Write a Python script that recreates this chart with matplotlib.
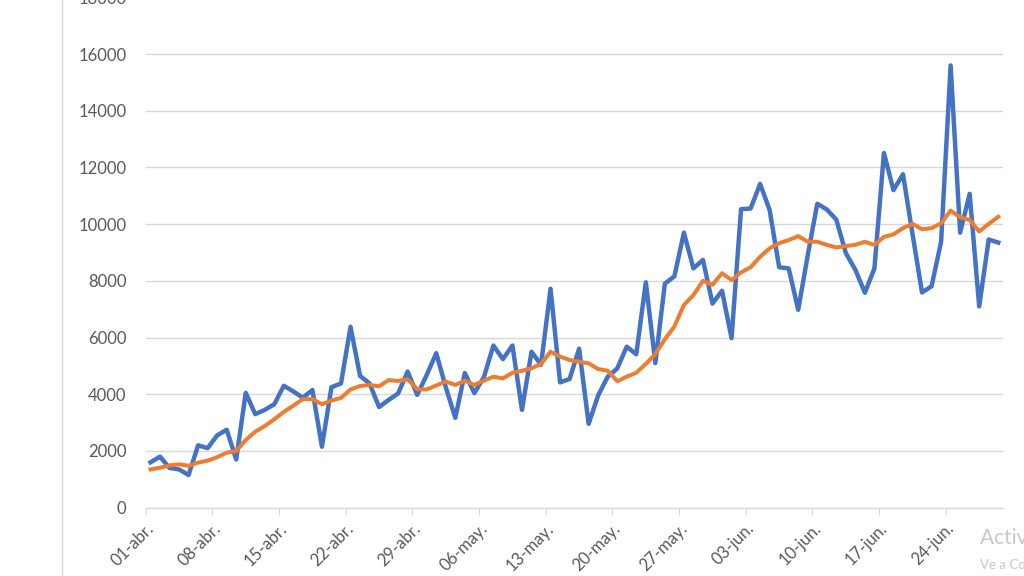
import numpy as np
import matplotlib.pyplot as plt
from matplotlib.lines import Line2D

# -----------------------------
# Data (daily values, 01-abr .. 29-jun)
# -----------------------------
daily = [
    1600, 1800, 1400, 1350, 1150, 2200, 2100, 2550, 2750, 1700,
    4050, 3300, 3450, 3650, 4300, 4100, 3880, 4150, 2150, 4250,
    4380, 6380, 4650, 4380, 3550, 3800, 4030, 4800, 3980, 4680,
    5450, 4250, 3170, 4750, 4040, 4600, 5720, 5240, 5720, 3450,
    5500, 5040, 7720, 4420, 4540, 5610, 2960, 3960, 4620, 4910,
    5680, 5410, 7950, 5100, 7900, 8160, 9700, 8440, 8740, 7200,
    7650, 5980, 10530, 10550, 11420, 10500, 8480, 8440, 6980, 8900,
    10720, 10520, 10160, 8980, 8390, 7580, 8440, 12510, 11200, 11760,
    9650, 7590, 7810, 9380, 15600, 9700, 11070, 7100, 9460, 9350,
]

moving_avg = [
    1350, 1410, 1490, 1530, 1480, 1590, 1660, 1780, 1940, 2000,
    2390, 2680, 2880, 3120, 3380, 3600, 3830, 3830, 3650, 3780,
    3870, 4170, 4290, 4330, 4280, 4500, 4470, 4530, 4180, 4170,
    4310, 4450, 4330, 4480, 4330, 4480, 4620, 4560, 4760, 4830,
    4920, 5070, 5500, 5330, 5210, 5150, 5090, 4890, 4830, 4460,
    4620, 4760, 5070, 5420, 5940, 6390, 7150, 7500, 8000, 7860,
    8270, 8030, 8300, 8480, 8850, 9150, 9330, 9440, 9580, 9380,
    9380, 9270, 9180, 9230, 9270, 9380, 9270, 9550, 9640, 9860,
    10010, 9820, 9860, 10030, 10480, 10240, 10150, 9740, 10010, 10260,
]

tick_labels = [
    "01-abr.", "08-abr.", "15-abr.", "22-abr.", "29-abr.", "06-may.",
    "13-may.", "20-may.", "27-may.", "03-jun.", "10-jun.", "17-jun.", "24-jun.",
]

BLUE = "#4472C4"
ORANGE = "#ED7D31"
GRID = "#D9D9D9"
TEXT = "#595959"

plt.rcParams["font.family"] = ["Lato", "DejaVu Sans"]

# -----------------------------
# Plot
# -----------------------------
fig = plt.figure(figsize=(10.24, 5.76), dpi=100)
ax = fig.add_axes([0.1423, 0.1186, 0.8372, 0.886])

n = len(daily)
x = np.arange(n) + 0.5  # points sit between the date tick marks
ax.plot(x, daily, color=BLUE, lw=3.2, solid_joinstyle="round", zorder=3)
ax.plot(x, moving_avg, color=ORANGE, lw=2.9, solid_joinstyle="round", zorder=4)

ax.set_xlim(0, n)
ax.set_ylim(0, 18000)
ax.set_yticks(np.arange(0, 18001, 2000))
ax.set_xticks(np.arange(0, 7 * len(tick_labels), 7))
ax.set_xticklabels(tick_labels, rotation=45, ha="right", va="top",
                   rotation_mode="anchor")

ax.grid(axis="y", color=GRID, lw=1)
ax.set_axisbelow(True)
for s in ["left", "right", "top"]:
    ax.spines[s].set_visible(False)
ax.spines["bottom"].set_color(GRID)
ax.spines["bottom"].set_linewidth(1)

ax.tick_params(axis="y", length=0, pad=14, labelsize=12, labelcolor=TEXT)
ax.tick_params(axis="x", length=5, color=GRID, pad=4, labelsize=12,
               labelcolor=TEXT)

# Frame edge on the left of the screenshot
fig.add_artist(Line2D([0.061, 0.061], [0, 1], transform=fig.transFigure,
                      color=GRID, lw=1))

# Faint watermark at lower right
fig.text(0.957, 0.055, "Activar Windows", color="#C8C8C8", fontsize=15)
fig.text(0.957, 0.012, "Ve a Configuración para activar Windows.",
         color="#C8C8C8", fontsize=9.5)

fig.savefig("out.png", dpi=100)
